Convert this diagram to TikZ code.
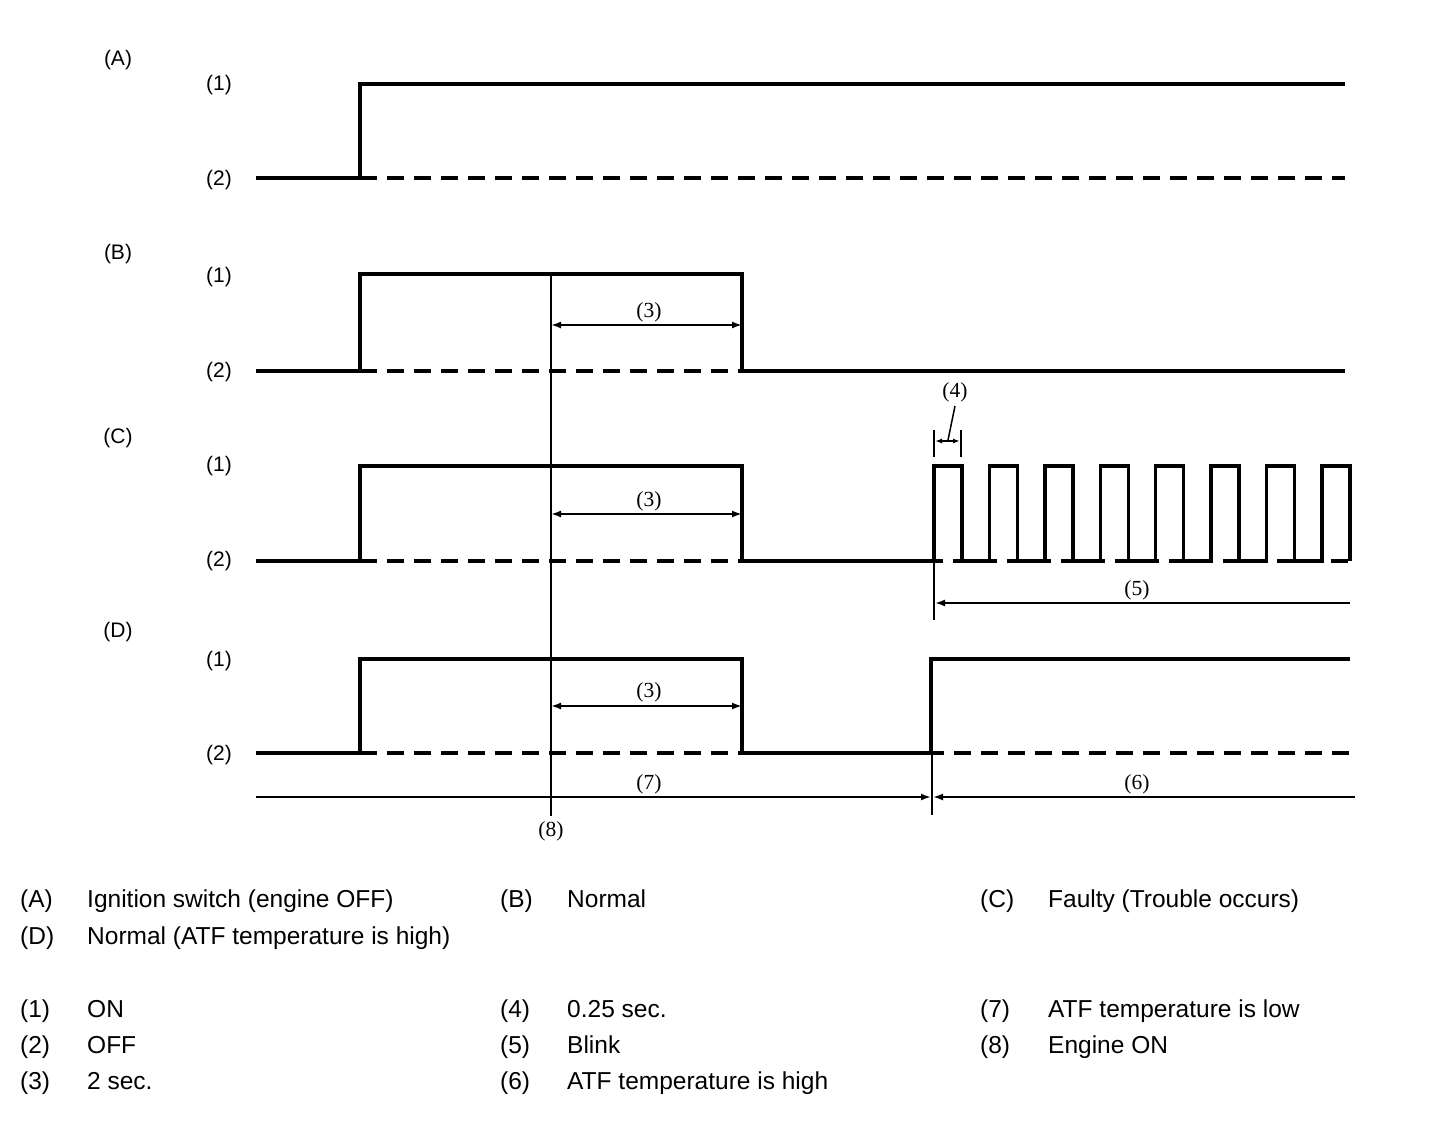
\documentclass[tikz,border=0pt]{standalone}
\usepackage{fontspec}
\setmainfont{Liberation Sans}
\newfontfamily\labserif{Liberation Serif}
\usetikzlibrary{arrows.meta}
\begin{document}
\begin{tikzpicture}[x=1pt,y=-1pt,
  wave/.style={line width=3.4pt},
  thinln/.style={line width=1.8pt},
  dsh/.style={line width=3.4pt, dash pattern=on 17pt off 10pt},
  lbl/.style={inner sep=0pt, font=\fontsize{21}{25}\selectfont},
  slbl/.style={inner sep=0pt, font=\fontsize{21.5}{25}\labserif},
  leg/.style={inner sep=0pt, anchor=base west, font=\fontsize{24.5}{29}\selectfont},
  arr/.style={thinln, -{Latex[length=10pt,width=7pt]}},
  darr/.style={thinln, {Latex[length=10pt,width=7pt]}-{Latex[length=10pt,width=7pt]}},
  sarr/.style={line width=1.5pt, {Latex[length=7pt,width=5pt]}-{Latex[length=7pt,width=5pt]}},
]
\useasboundingbox (0,0) rectangle (1456,1122);

% ---- row labels
\node[lbl] (lA) at (118,60) {(A)};
\node[lbl] (lA1) at (219,85) {(1)};
\node[lbl] (lA2) at (219,180) {(2)};
\node[lbl] (lB) at (118,254) {(B)};
\node[lbl] (lB1) at (219,277) {(1)};
\node[lbl] (lB2) at (219,372) {(2)};
\node[lbl] (lC) at (118,438) {(C)};
\node[lbl] (lC1) at (219,466) {(1)};
\node[lbl] (lC2) at (219,561) {(2)};
\node[lbl] (lD) at (118,632) {(D)};
\node[lbl] (lD1) at (219,661) {(1)};
\node[lbl] (lD2) at (219,755) {(2)};

% ---- waveform A
\draw[dsh] (360,178) -- (1345,178);
\draw[wave] (256,178) -- (360,178) -- (360,84) -- (1345,84);

% ---- waveform B
\draw[dsh] (360,371) -- (742,371);
\draw[wave] (256,371) -- (360,371) -- (360,274) -- (742,274) -- (742,371) -- (1345,371);

% ---- waveform C
\draw[dsh] (360,561) -- (742,561);
\draw[dsh, dash phase=8pt] (934,561) -- (1350,561);
\draw[wave] (256,561) -- (360,561) -- (360,466) -- (742,466) -- (742,561) -- (934,561)
  foreach \i in {1,...,7} { -- ++(0,-95) -- ++(28,0) -- ++(0,95) -- ++(27.43,0) }
  -- ++(0,-95) -- ++(28,0) -- ++(0,95);

% ---- waveform D
\draw[dsh] (360,753) -- (1350,753);
\draw[wave] (256,753) -- (360,753) -- (360,659) -- (742,659) -- (742,753) -- (931,753) -- (931,659) -- (1350,659);

% ---- (8) engine ON line
\node[slbl] (n8) at (551,831) {(8)};
\coordinate (top8) at (551,274);
\coordinate (bot8) at (551,816);
\draw[thinln] (top8) -- (bot8);

% ---- (3) 2 sec arrows
\coordinate (b3l) at (551,325); \coordinate (b3r) at (742,325);
\coordinate (c3l) at (551,514); \coordinate (c3r) at (742,514);
\coordinate (d3l) at (551,706); \coordinate (d3r) at (742,706);
\draw[darr] (b3l) -- (b3r);
\draw[darr] (c3l) -- (c3r);
\draw[darr] (d3l) -- (d3r);
\node[slbl] (n3b) at (649,312) {(3)};
\node[slbl] (n3c) at (649,501) {(3)};
\node[slbl] (n3d) at (649,692) {(3)};

% ---- (4) 0.25 sec
\draw[line width=1.5pt] (934,430) -- (934,457);
\draw[line width=1.5pt] (961,430) -- (961,457);
\coordinate (a4l) at (935,441); \coordinate (a4r) at (960,441);
\draw[sarr] (a4l) -- (a4r);
\node[slbl] (n4) at (955,392) {(4)};
\coordinate (lead4) at (948,440);
\draw[line width=1.5pt] (955,406) -- (lead4);

% ---- (5) blink
\coordinate (v5t) at (934,561); \coordinate (v5b) at (934,620);
\draw[thinln] (v5t) -- (v5b);
\coordinate (a5r) at (1350,603); \coordinate (a5l) at (935,603);
\draw[arr] (a5r) -- (a5l);
\node[slbl] (n5) at (1137,590) {(5)};

% ---- (7)/(6)
\coordinate (v7t) at (932,753); \coordinate (v7b) at (932,815);
\draw[thinln] (v7t) -- (v7b);
\coordinate (a7l) at (256,797); \coordinate (a7r) at (931,797);
\coordinate (a6r) at (1355,797); \coordinate (a6l) at (933,797);
\draw[arr] (a7l) -- (a7r);
\draw[arr] (a6r) -- (a6l);
\node[slbl] (n7) at (649,784) {(7)};
\node[slbl] (n6) at (1137,784) {(6)};

% ---- legend (baselines)
\node[leg] (kA) at (20,907) {(A)};
\node[leg] (tA) at (87,907) {Ignition switch (engine OFF)};
\node[leg] (kB) at (500,907) {(B)};
\node[leg] (tB) at (567,907) {Normal};
\node[leg] (kC) at (980,907) {(C)};
\node[leg] (tC) at (1048,907) {Faulty (Trouble occurs)};
\node[leg] (kD) at (20,944) {(D)};
\node[leg] (tD) at (87,944) {Normal (ATF temperature is high)};

\node[leg] (k1) at (20,1017) {(1)};
\node[leg] (t1) at (87,1017) {ON};
\node[leg] (k2) at (20,1053) {(2)};
\node[leg] (t2) at (87,1053) {OFF};
\node[leg] (k3) at (20,1089) {(3)};
\node[leg] (t3) at (87,1089) {2 sec.};
\node[leg] (k4) at (500,1017) {(4)};
\node[leg] (t4) at (567,1017) {0.25 sec.};
\node[leg] (k5) at (500,1053) {(5)};
\node[leg] (t5) at (567,1053) {Blink};
\node[leg] (k6) at (500,1089) {(6)};
\node[leg] (t6) at (567,1089) {ATF temperature is high};
\node[leg] (k7) at (980,1017) {(7)};
\node[leg] (t7) at (1048,1017) {ATF temperature is low};
\node[leg] (k8) at (980,1053) {(8)};
\node[leg] (t8) at (1048,1053) {Engine ON};
\end{tikzpicture}
\end{document}
